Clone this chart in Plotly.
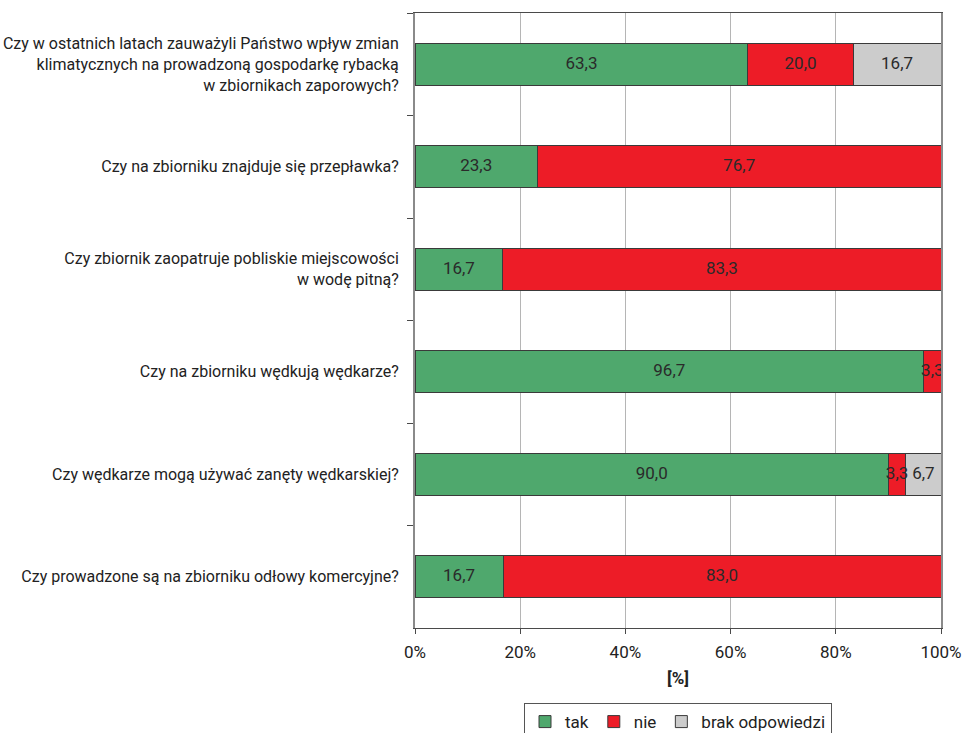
import plotly.graph_objects as go

# Survey questions (top to bottom) and answer shares in percent
questions = [
    "Czy w ostatnich latach zauważyli Państwo wpływ zmian<br>klimatycznych na prowadzoną gospodarkę rybacką<br>w zbiornikach zaporowych?",
    "Czy na zbiorniku znajduje się przepławka?",
    "Czy zbiornik zaopatruje pobliskie miejscowości<br>w wodę pitną?",
    "Czy na zbiorniku wędkują wędkarze?",
    "Czy wędkarze mogą używać zanęty wędkarskiej?",
    "Czy prowadzone są na zbiorniku odłowy komercyjne?",
]
tak = [63.3, 23.3, 16.7, 96.7, 90.0, 16.7]
nie = [20.0, 76.7, 83.3, 3.3, 3.3, 83.0]
brak = [16.7, None, None, None, 6.7, None]

series_names = ["tak", "nie", "brak odpowiedzi"]
series_values = [tak, nie, brak]
series_colors = ["#4fa86d", "#ed1c27", "#cccccc"]

x_ticks = [0, 20, 40, 60, 80, 100]
x_ticklabels = ["0%", "20%", "40%", "60%", "80%", "100%"]

FONT = "Roboto, Liberation Sans, sans-serif"
FS = 17

fig = go.Figure()

for name, vals, color in zip(series_names, series_values, series_colors):
    fig.add_trace(go.Bar(
        name=name, y=questions, x=vals, orientation="h",
        marker=dict(color=color, line=dict(color="#3a3a3a", width=1)),
        hoverinfo="skip",
    ))

# Value labels centred on each (normalised) segment
lab_x, lab_y, lab_t = [], [], []
for i, q in enumerate(questions):
    row = [s[i] for s in series_values]
    total = sum(v for v in row if v is not None)
    cum = 0.0
    for v in row:
        if v is None:
            continue
        lab_x.append((cum + v / 2) / total * 100)
        lab_y.append(q)
        lab_t.append(f"{v:.1f}".replace(".", ","))
        cum += v

fig.add_trace(go.Scatter(
    x=lab_x, y=lab_y, text=lab_t, mode="text",
    textfont=dict(family=FONT, size=FS, color="#2a2a2a"),
    showlegend=False, hoverinfo="skip", cliponaxis=False,
))

fig.update_layout(
    width=964, height=733,
    margin=dict(l=415, r=23, t=13, b=105, autoexpand=False),
    barmode="stack", barnorm="percent", bargap=0.59,
    plot_bgcolor="white", paper_bgcolor="white",
    font=dict(family=FONT, size=FS, color="#222222"),
    legend=dict(
        orientation="h", x=0.5, xanchor="center", y=-0.122, yanchor="top",
        bordercolor="#555555", borderwidth=1, bgcolor="white",
        font=dict(family=FONT, size=FS, color="#222222"),
        traceorder="normal", itemwidth=30,
    ),
)

fig.update_xaxes(
    range=[0, 100], tickvals=x_ticks, ticktext=x_ticklabels,
    showgrid=True, gridcolor="#b5b5b5", gridwidth=1,
    showline=True, linecolor="#4a4a4a", linewidth=1, mirror=True,
    ticks="outside", ticklen=5, tickcolor="#4a4a4a",
    zeroline=False, automargin=False, ticklabeloverflow="allow",
    ticklabelstandoff=4,
    title=dict(text="<b>[%]</b>", standoff=10, font=dict(family=FONT, size=FS)),
)

fig.update_yaxes(
    categoryorder="array", categoryarray=questions, autorange="reversed",
    tickson="boundaries", ticks="outside", ticklen=6, tickcolor="#4a4a4a",
    showline=True, linecolor="#8a8a8a", linewidth=2, mirror=True,
    showgrid=False, zeroline=False, automargin=False,
    ticklabelstandoff=11, tickfont=dict(family=FONT, size=16),
)

fig.write_html("out.html")
